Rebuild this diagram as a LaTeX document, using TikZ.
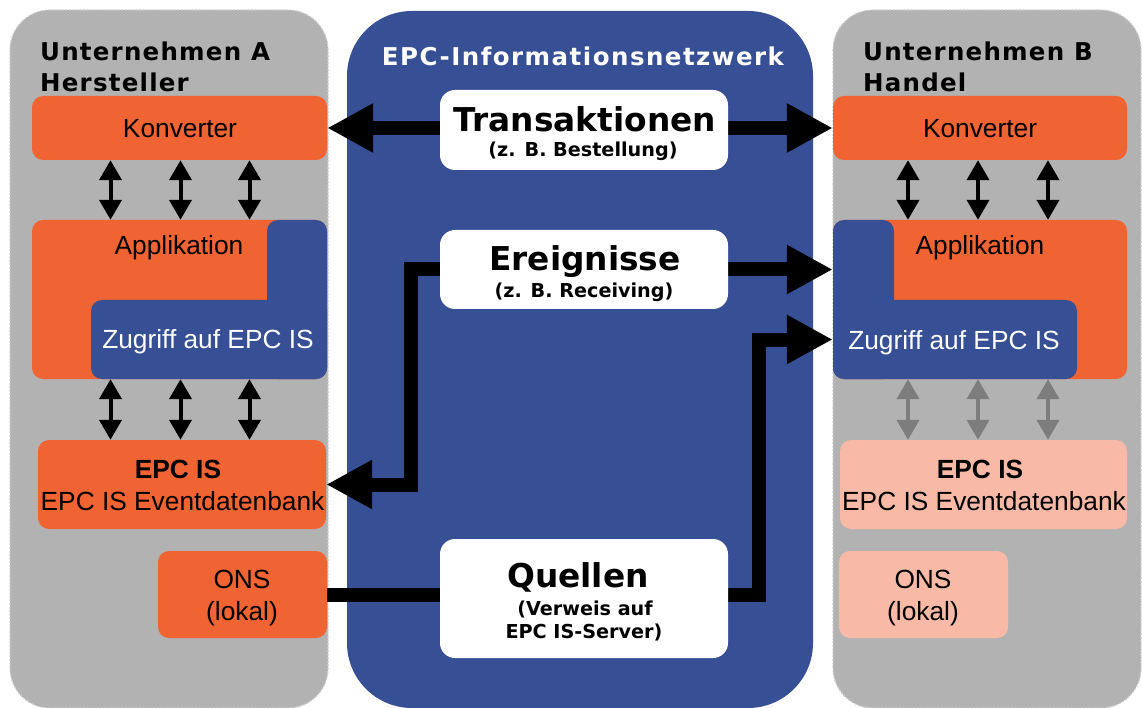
\documentclass[tikz,border=0pt]{standalone}
\usepackage{fontspec}
\setmainfont{Liberation Sans}
\newfontfamily\headfont[LetterSpace=5]{DejaVu Sans}
\newfontfamily\netfont[LetterSpace=6]{DejaVu Sans}
\newfontfamily\cardfont{DejaVu Sans}
\usetikzlibrary{arrows.meta,calc}
\pgfdeclarelayer{back}
\pgfdeclarelayer{mid}
\pgfsetlayers{back,mid,main}

\definecolor{epcorange}{RGB}{240,100,52}
\definecolor{epcblue}{RGB}{55,79,148}
\definecolor{panelgray}{RGB}{178,178,178}
\definecolor{paneledge}{RGB}{205,205,205}
\definecolor{epcsalmon}{RGB}{248,186,166}
\definecolor{arrowgray}{RGB}{125,125,125}

\tikzset{
  panel/.style={fill=panelgray, draw=paneledge, line width=1.2pt, dash pattern=on 2pt off 1.5pt, rounded corners=40pt},
  card/.style={rectangle, rounded corners=11pt, inner sep=0pt, draw=none},
  orangecard/.style={card, fill=epcorange},
  bluecard/.style={card, fill=epcblue},
  salmoncard/.style={card, fill=epcsalmon},
  whitecard/.style={card, fill=white, rounded corners=15pt},
  txt/.style={inner sep=0pt, anchor=base},
  boxtext/.style={txt, font=\fontsize{26.3}{30}\selectfont},
  headtext/.style={txt, anchor=base west, font=\headfont\bfseries\fontsize{24.5}{28}\selectfont},
  bigtext/.style={txt, font=\cardfont\bfseries\fontsize{32.8}{36}\selectfont},
  subtext/.style={txt, font=\cardfont\bfseries\fontsize{19.2}{22}\selectfont},
  bigarrow/.style={line width=14pt, -{Triangle[length=46pt,width=46pt]}},
  bigdouble/.style={line width=14pt, {Triangle[length=46pt,width=46pt]}-{Triangle[length=46pt,width=46pt]}},
  bigline/.style={line width=14pt},
  smallarrow/.style={line width=4pt, {Triangle[length=20pt,width=22pt]}-{Triangle[length=20pt,width=22pt]}},
}

\begin{document}
\begin{tikzpicture}[x=1pt, y=-1pt]
\useasboundingbox (0,0) rectangle (1142,708);

% background panels
\begin{pgfonlayer}{back}
  \fill[white] (0,0) rectangle (1142,708);
  \path[panel] (10,10) rectangle (328,708);
  \path[panel] (833,10) rectangle (1141,708);
  \fill[epcblue, rounded corners=65pt] (347,11) rectangle (813,708);
\end{pgfonlayer}

% panel headings
\node[headtext] (headA1) at (40,61) {Unternehmen A};
\node[headtext] (headA2) at (40,92) {Hersteller};
\node[headtext] (headB1) at (863,61) {Unternehmen B};
\node[headtext] (headB2) at (863,92) {Handel};
\node[txt, text=white, font=\netfont\bfseries\fontsize{24.5}{28}\selectfont] (nettitle) at (583,66) {EPC-Informationsnetzwerk};

% company A
\node[orangecard, minimum width=295pt, minimum height=64pt] (konvA) at (179.5,128) {};
\node[orangecard, minimum width=295pt, minimum height=159pt] (appA) at (179.5,299.5) {};
\node[bluecard, minimum width=60pt, minimum height=159pt] (appAside) at (297,299.5) {};
\node[bluecard, minimum width=236pt, minimum height=79pt] (zugA) at (209,339.5) {};
\node[orangecard, minimum width=288pt, minimum height=89pt] (epcA) at (182,484.5) {};
\node[orangecard, minimum width=169pt, minimum height=87pt] (onsA) at (242.5,594.5) {};

\node[boxtext] (konvAt) at (180,138) {Konverter};
\node[boxtext] (appAt) at (179,255) {Applikation};
\node[boxtext, text=white] (zugAt) at (208,348) {Zugriff auf EPC IS};
\node[boxtext, font=\bfseries\fontsize{26.3}{30}\selectfont] (epcAt1) at (178,478) {EPC IS};
\node[boxtext] (epcAt2) at (182.5,510) {EPC IS Eventdatenbank};
\node[boxtext] (onsAt1) at (242,588) {ONS};
\node[boxtext] (onsAt2) at (242,620) {(lokal)};

% company B
\node[orangecard, minimum width=294pt, minimum height=64pt] (konvB) at (980,128) {};
\node[orangecard, minimum width=294pt, minimum height=159pt] (appB) at (980,299.5) {};
\node[bluecard, minimum width=61pt, minimum height=159pt] (appBside) at (863.5,299.5) {};
\node[bluecard, minimum width=244pt, minimum height=79pt] (zugB) at (955,339.5) {};
\node[salmoncard, minimum width=287pt, minimum height=89pt] (epcB) at (983.5,484.5) {};
\node[salmoncard, minimum width=169pt, minimum height=87pt] (onsB) at (923.5,594.5) {};

\node[boxtext] (konvBt) at (980,138) {Konverter};
\node[boxtext] (appBt) at (980,255) {Applikation};
\node[boxtext, text=white] (zugBt) at (954,349) {Zugriff auf EPC IS};
\node[boxtext, font=\bfseries\fontsize{26.3}{30}\selectfont] (epcBt1) at (980,478) {EPC IS};
\node[boxtext] (epcBt2) at (984,510) {EPC IS Eventdatenbank};
\node[boxtext] (onsBt1) at (923,588) {ONS};
\node[boxtext] (onsBt2) at (923,620) {(lokal)};

% network message types
\node[whitecard, minimum width=288pt, minimum height=80pt] (trans) at (584,130) {};
\node[whitecard, minimum width=288pt, minimum height=79pt] (ereig) at (584,269.5) {};
\node[whitecard, minimum width=288pt, minimum height=119pt] (quel) at (584,598.5) {};

\node[bigtext] (transt) at (585,132) {Transaktionen};
\node[subtext] (transs) at (583,157) {(z. B. Bestellung)};
\node[bigtext] (ereigt) at (585,271) {Ereignisse};
\node[subtext] (ereigs) at (584,298) {(z. B. Receiving)};
\node[bigtext] (quelt) at (578,587) {Quellen};
\node[subtext] (quels1) at (585,615) {(Verweis auf};
\node[subtext] (quels2) at (584,638) {EPC IS-Server)};

% connectors
\begin{pgfonlayer}{mid}
  % inside company A
  \foreach \dx in {-69,1,70} {
    \draw[smallarrow] ([xshift=\dx pt]konvA.south) -- ([xshift=\dx pt]appA.north);
    \draw[smallarrow] ([xshift=\dx pt]appA.south) -- ([xshift=\dx pt]appA.south |- epcA.north);
  }
  % inside company B
  \foreach \dx in {-72,-2,68} {
    \draw[smallarrow] ([xshift=\dx pt]konvB.south) -- ([xshift=\dx pt]appB.north);
    \draw[smallarrow, draw=arrowgray, fill=arrowgray] ([xshift=\dx pt]appB.south) -- ([xshift=\dx pt]appB.south |- epcB.north);
  }
  % transactions between the converters
  \draw[bigdouble] (konvA.east) -- (konvB.west);
  % events
  \draw[bigarrow] (ereig.east) -- (ereig.east -| appB.west);
  \draw[bigarrow] (ereig.west) -- ++(-29,0) |- (epcA.east);
  % sources
  \draw[bigline] (onsA.east) -- (onsA.east -| quel.west);
  \draw[bigarrow] (onsA.east -| quel.east) -- ++(31,0) |- (zugB.west);
\end{pgfonlayer}
\end{tikzpicture}
\end{document}
